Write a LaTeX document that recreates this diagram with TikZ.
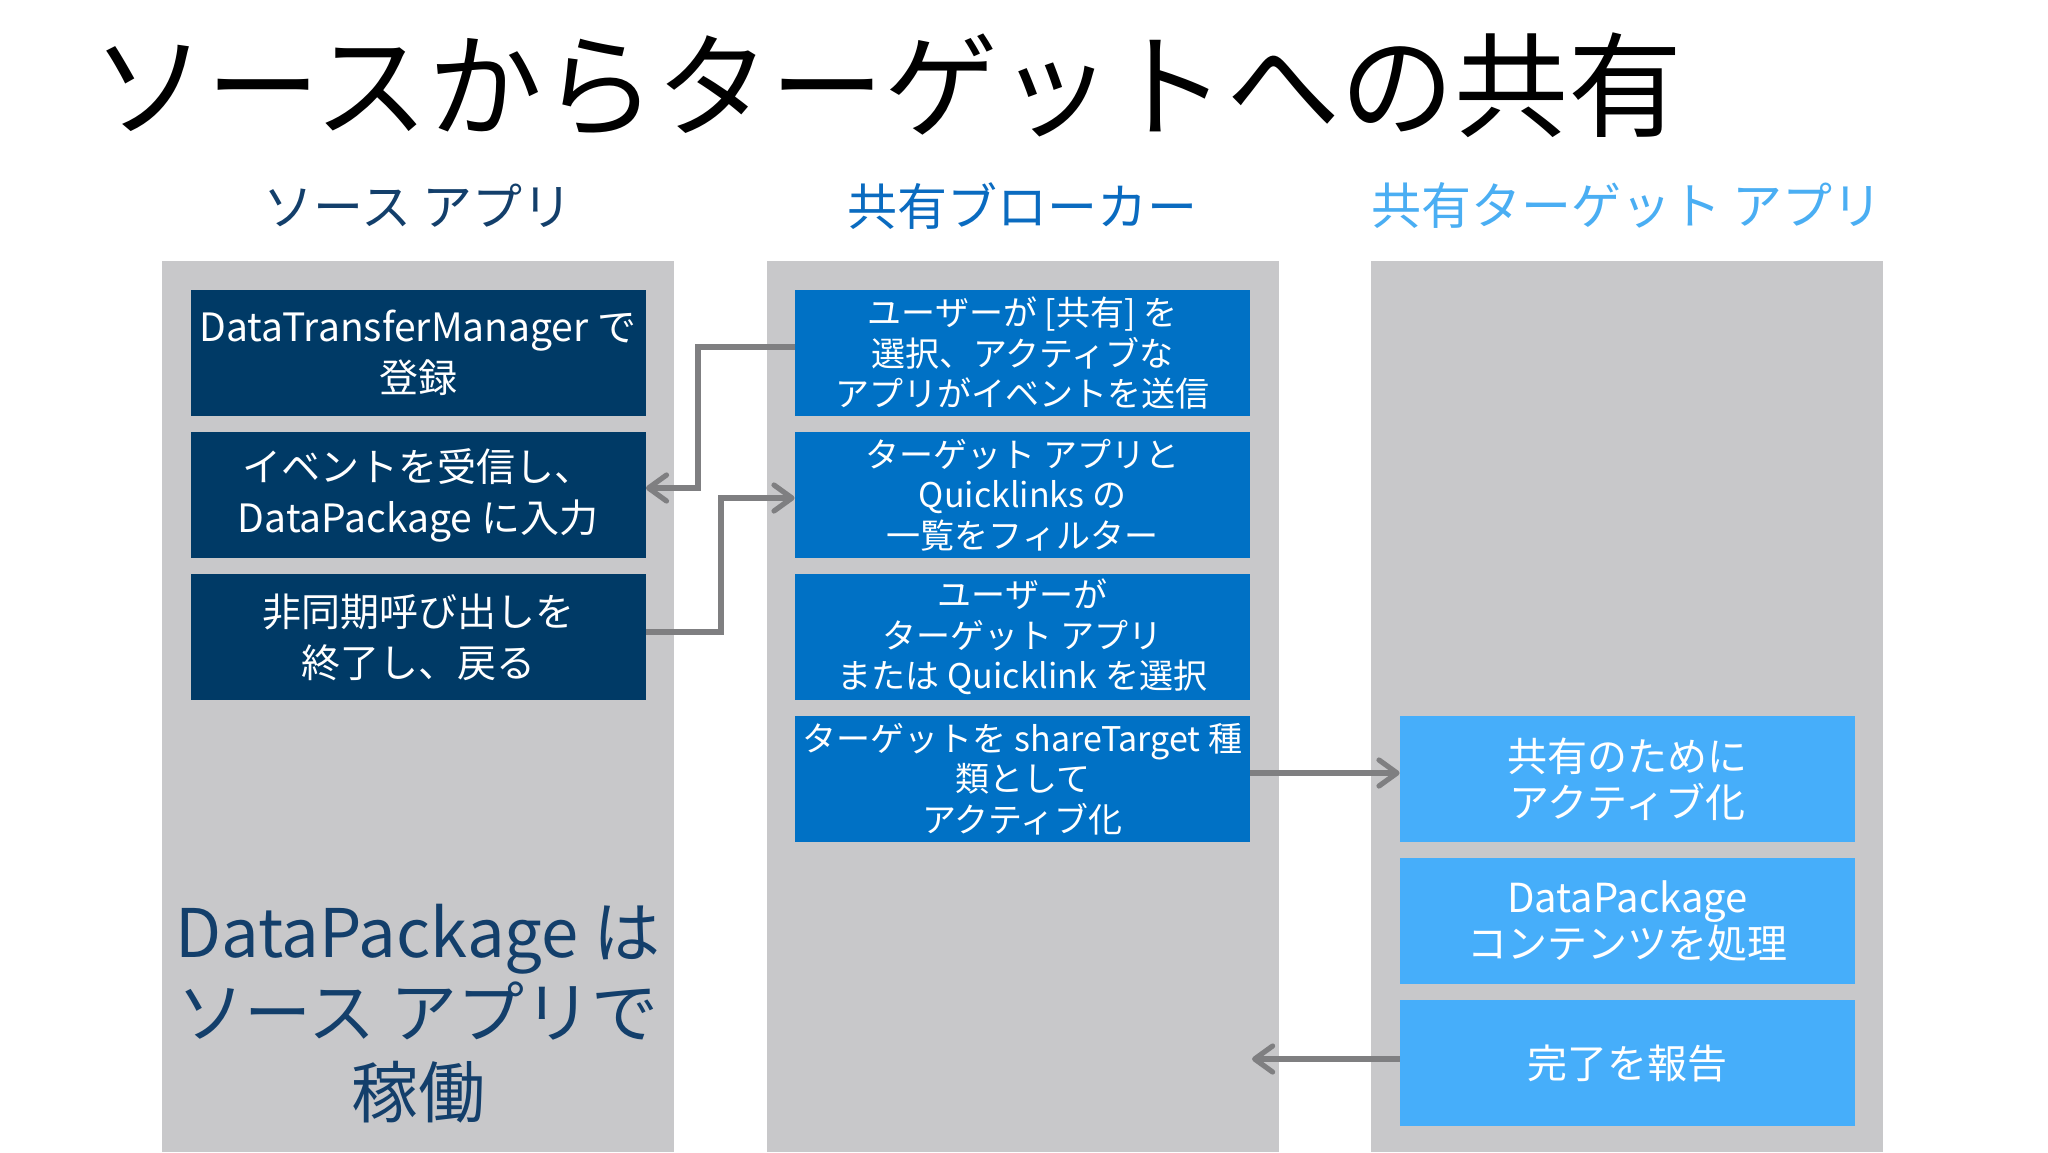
\documentclass[tikz,border=0pt]{standalone}
\usepackage{fontspec}
\setmainfont{Noto Sans CJK JP}
\usetikzlibrary{arrows.meta,calc}
\definecolor{panelgray}{HTML}{C8C8CA}
\definecolor{darkbox}{HTML}{003A66}
\definecolor{midbox}{HTML}{0071C5}
\definecolor{lightbox}{HTML}{46AEFA}
\definecolor{hdrone}{HTML}{133F6B}
\definecolor{hdrtwo}{HTML}{0A6BC0}
\definecolor{hdrthree}{HTML}{4AAEF3}
\definecolor{arrgray}{HTML}{7F7F81}
\begin{document}
\begin{tikzpicture}[x=0.5pt,y=-0.5pt,
  panel/.style={fill=panelgray},
  boxbase/.style={rectangle, inner sep=0pt, minimum width=227.5pt, minimum height=63pt, text=white, align=center},
  srcbox/.style={boxbase, fill=darkbox, font=\fontsize{19.5pt}{25.5pt}\selectfont},
  brkbox/.style={boxbase, fill=midbox, font=\fontsize{17pt}{20.2pt}\selectfont},
  tgtbox/.style={boxbase, fill=lightbox, font=\fontsize{20pt}{23pt}\selectfont},
  hdr/.style={font=\fontsize{25pt}{30pt}\selectfont, inner sep=0pt},
  arr/.style={draw=arrgray, line width=2.6pt, -{Straight Barb[length=9pt,width=13pt,line cap=round,line join=round]}}
]
\useasboundingbox[fill=white] (0,0) rectangle (2048,1152);

% title
\node[anchor=west, inner sep=0pt, font=\fontsize{57pt}{60pt}\selectfont] (title) at (92,85) {ソースからターゲットへの共有};

% headers
\node[hdr, text=hdrone] (h1) at (418,206) {ソース アプリ};
\node[hdr, text=hdrtwo] (h2) at (1022,206) {共有ブローカー};
\node[hdr, text=hdrthree] (h3) at (1627,206) {共有ターゲット アプリ};

% panels
\fill[panel] (162,261) rectangle (674,1152);
\fill[panel] (767,261) rectangle (1279,1152);
\fill[panel] (1371,261) rectangle (1883,1152);

% source boxes
\node[srcbox] (l1) at (418,353) {DataTransferManager で\\登録};
\node[srcbox] (l2) at (418,495) {イベントを受信し、\\DataPackage に入力};
\node[srcbox] (l3) at (418,637) {非同期呼び出しを\\終了し、戻る};

% broker boxes
\node[brkbox] (m1) at (1022.5,353) {ユーザーが [共有] を\\選択、アクティブな\\アプリがイベントを送信};
\node[brkbox] (m2) at (1022.5,495) {ターゲット アプリと\\Quicklinks の\\一覧をフィルター};
\node[brkbox] (m3) at (1022.5,637) {ユーザーが\\ターゲット アプリ\\または Quicklink を選択};
\node[brkbox] (m4) at (1022.5,779) {ターゲットを shareTarget 種\\類として\\アクティブ化};

% target boxes
\node[tgtbox] (r1) at (1627.5,779) {共有のために\\アクティブ化};
\node[tgtbox] (r2) at (1627.5,921) {DataPackage\\コンテンツを処理};
\node[tgtbox] (r3) at (1627.5,1063) {完了を報告};

% big note
\node[align=center, text=hdrone, inner sep=0pt, font=\fontsize{33.5pt}{40pt}\selectfont] (note) at (418,1014) {DataPackage は\\ソース アプリで\\稼働};

% connectors
\coordinate (a1) at (698,420);
\coordinate (b1) at (721,560);
\coordinate (e4) at (1252,1059);
\draw[arr] ([yshift=3pt]m1.west) -| (a1) |- ([yshift=3.5pt]l2.east);
\draw[arr] ([yshift=2.5pt]l3.east) -| (b1) |- ([yshift=-1.5pt]m2.west);
\draw[arr] ([yshift=3pt]m4.east) -- ([yshift=3pt]r1.west);
\draw[arr] ([yshift=2pt]r3.west) -- (e4);
\end{tikzpicture}
\end{document}
